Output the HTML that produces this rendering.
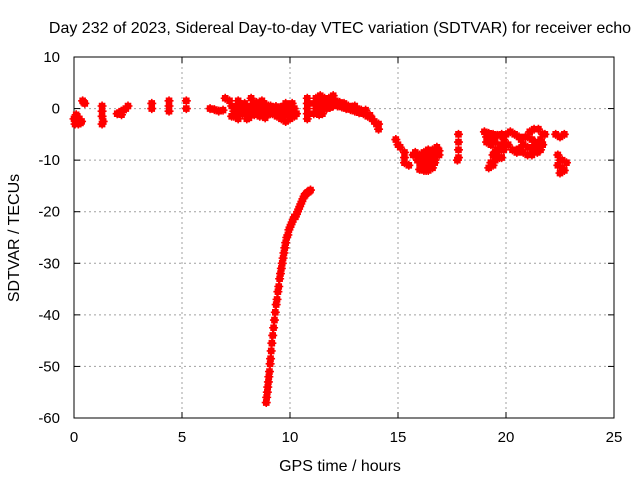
<!DOCTYPE html>
<html><head><meta charset="utf-8"><style>
body{margin:0;background:#fff}
svg{display:block;font-family:"Liberation Sans",sans-serif}
</style></head><body>
<svg id="chart" width="640" height="480" viewBox="0 0 640 480">
<text x="340" y="33" font-size="16" text-anchor="middle">Day 232 of 2023, Sidereal Day-to-day VTEC variation (SDTVAR) for receiver echo</text>
<g id="grid"></g>
<g id="axes"></g>
<g id="marks"></g>
<text x="340" y="471" font-size="16" text-anchor="middle">GPS time / hours</text>
<text transform="translate(19,238) rotate(-90)" font-size="16" text-anchor="middle">SDTVAR / TECUs</text>
</svg>
<script>
const xTicks=[0,5,10,15,20,25];
const yTicks=[10,0,-10,-20,-30,-40,-50,-60];
const earlyPts=[[0,-2],[0.1,-2.5],[0.2,-3],[0.3,-2.8],[0.15,-1.5],[0.25,-2],[0.05,-3],[0.35,-2.5],[0.1,-1.2],[0.4,1.5],[0.45,1.2],[0.5,1],
[1.3,0.5],[1.3,-0.5],[1.3,-1.5],[1.35,-2.5],[1.3,-3],
[2.0,-1],[2.1,-0.8],[2.2,-0.5],[2.3,-0.3],[2.4,0],[2.5,0.5],[2.2,-1.2],
[3.6,1],[3.6,0],[4.4,1.5],[4.4,0.5],[4.4,-0.5],[5.2,1.5],[5.2,0]];
const midPts=[[6.3,0],[6.5,-0.2],[6.7,-0.5],[6.9,-0.3],[7.0,2],[7.2,1.5],[7.3,0.5],[7.4,-0.5],[7.5,-1],[7.6,1.5],[7.7,0],[7.8,-1],[7.9,1],[8.0,0.5],[8.1,-0.5],[8.2,2],[8.3,1],[8.4,-0.5],[8.5,0.5],[8.6,-1],[8.7,0],[8.8,1],[8.9,-0.5],[9.0,0.5],[9.1,-1],[9.2,0],[9.3,-0.5],[9.4,-1.5],[9.5,-0.8],[9.6,-0.3],[9.7,0.5],[9.8,1],[9.9,0],[10.0,0.5],[10.1,1],[10.2,0],
[7.4,-1.5],[7.6,-2],[7.8,-1],[8.0,-2],[8.2,-1],[8.4,0],[8.6,-1.5],[8.8,-1],[9.0,-0.5],[9.2,-1],[9.4,-1.5],[9.6,-2],[9.8,-2.5],[10.0,-2],[10.2,-1.5],[7.5,0.5],[7.9,1],[8.3,0],[8.7,1.5],[9.1,0.5],[9.5,-0.5],[9.9,0.3],[10.3,-1],[7.3,-1.5],[8.1,-1.8],[9.3,-1],
[7.55,0],[7.75,-0.3],[7.95,-0.2],[8.15,0.3],[8.35,-1.2],[8.55,-0.3],[8.75,-0.6],[8.95,0.2],[9.15,-0.2],[9.35,0.4],[9.55,0.2],[9.75,-1],[9.95,-1.2],[10.15,-0.5],[7.65,0.8],[8.05,-1.2],[8.45,1.2],[8.85,-1.8],
[10.8,2],[10.8,1],[10.8,0],[10.8,-1],[10.8,-2],
[11.1,1],[11.2,2],[11.3,1.5],[11.4,2.5],[11.5,1],[11.6,2],[11.7,1.5],[11.8,2],[11.9,1],[12.0,2.5],[11.2,0],[11.4,-0.5],[11.6,0],[11.8,1],[12.0,0.5],[11.1,-1],[11.3,-0.5],[11.5,-1],[11.7,0],[11.9,0.5],[11.2,1],[11.5,1.8],[11.8,1.5],
[11.25,0.5],[11.45,0.8],[11.65,1],[11.35,-1.2],[11.55,0.3],[11.85,0.2],
[12.1,1.5],[12.3,1.2],[12.5,0.8],[12.7,0.5],[12.9,0.3],[13.1,0],[13.3,-0.3],[13.5,-0.8],[13.7,-1.3],[13.9,-2.5],[12.2,0.5],[12.4,0.3],[12.6,0],[12.8,-0.2],[13.0,-0.5],[13.2,-0.8],[13.4,-1],[13.6,-1.5],[13.8,-2],[14.0,-3],[12.5,1],[13.0,0.5],[13.5,-0.3],
[14.1,-3],[14.1,-4]];
const descentPts=[[8.9,-57],[8.92,-56],[8.95,-55],[8.97,-54],[9.0,-53],[9.02,-52],[9.05,-51],[9.08,-49.5],[9.1,-48.5],[9.13,-47],[9.16,-45.5],[9.2,-44],[9.24,-42.5],[9.28,-41],[9.32,-39.5],[9.36,-38],[9.4,-37],[9.44,-35.5],[9.48,-34.5],[9.52,-33],[9.56,-32],[9.6,-31],[9.64,-30],[9.68,-29],[9.72,-28],[9.76,-27],[9.8,-26],[9.85,-25],[9.9,-24.5],[9.95,-23.5],[10.0,-23],[10.05,-22.5],[10.1,-22],[10.15,-21.5],[10.2,-21],[10.25,-21],[10.3,-20.5],[10.35,-20],[10.4,-19.5],[10.45,-19],[10.5,-18.5],[10.55,-18],[10.6,-17.5],[10.65,-17],[10.7,-16.8],[10.75,-16.5],[10.8,-16.3],[10.85,-16.2],[10.9,-16],[10.95,-15.8]];
const latePts=[[14.9,-6],[15.0,-7],[15.1,-7.5],[15.3,-8.5],[15.3,-9.5],[15.3,-10.5],[15.5,-11],
[15.7,-9],[15.9,-10],[16.1,-11.5],[16.3,-12],[16.5,-11],[16.7,-10],[16.9,-9],[15.8,-8.5],[16.0,-9],[16.2,-8.5],[16.4,-8],[16.6,-8],[16.8,-7.5],[16.0,-10.5],[16.2,-10],[16.4,-9.5],[16.6,-9],[16.1,-11],[16.3,-11.5],[16.5,-11],[16.7,-10.5],[16.2,-12],[16.4,-12],[16.6,-11.5],
[15.9,-9.2],[16.1,-9.8],[16.3,-10.6],[16.5,-10],[16.7,-8.8],[16.9,-8.2],[16.4,-8.8],[16.0,-11.8],
[17.8,-5],[17.8,-6.5],[17.8,-8],[17.8,-9.5],[17.75,-10],
[19.0,-4.5],[19.2,-4.8],[19.4,-5],[19.6,-5.2],[19.8,-5],[20.0,-5],[19.1,-6.5],[19.3,-7],[19.5,-6.5],[19.7,-7.5],[19.9,-8],[19.4,-9],[19.6,-9],[19.8,-9.5],[19.3,-10.5],[19.5,-10],[19.7,-9.5],[19.2,-11.5],[19.4,-11],[19.9,-6],[20.1,-7],
[19.2,-5.8],[19.4,-6],[19.6,-8],[19.8,-7],[19.5,-8.3],[19.1,-5.5],
[20.2,-4.5],[20.4,-5],[20.6,-5.5],[20.8,-7],[21.0,-9],[21.2,-8.5],[21.4,-7],[21.6,-6],[21.8,-5],[20.3,-8],[20.5,-8.5],[20.7,-6],[20.9,-5.5],[21.1,-4.5],[21.3,-4],[21.5,-4],[21.7,-5],[21.0,-5.5],[21.2,-6],[21.4,-7.5],[21.6,-8],[21.5,-8],[21.7,-7],[20.8,-8.5],[21.0,-7.5],[21.2,-9],
[21.35,-6.5],[21.55,-7],[21.45,-8.5],[21.65,-6.5],[21.25,-7.5],[20.6,-7.8],
[22.3,-5],[22.5,-5.5],[22.7,-5],[22.4,-9],[22.6,-10],[22.8,-10.5],[22.4,-11],[22.6,-11.5],[22.8,-10.5],[22.5,-12.5],[22.7,-12],[22.5,-10]];
const NS='http://www.w3.org/2000/svg';
const X0=74,X1=614,Y0=57,Y1=418;
const xs=t=>X0+(t-0)/25*(X1-X0);
const ys=v=>Y0+(10-v)/70*(Y1-Y0);
const grid=document.getElementById('grid'),axes=document.getElementById('axes'),marks=document.getElementById('marks');
function mk(tag,attrs,parent){const e=document.createElementNS(NS,tag);for(const k in attrs)e.setAttribute(k,attrs[k]);parent.appendChild(e);return e;}
xTicks.forEach(t=>{
  const x=xs(t);
  if(t>0&&t<25){const g=mk('line',{x1:x,x2:x,y1:Y0,y2:Y1,stroke:'#a0a0a0','stroke-dasharray':'2,3'},grid);
  
  }
  mk('line',{x1:x,x2:x,y1:Y1,y2:Y1-6,stroke:'#000'},axes);
  mk('line',{x1:x,x2:x,y1:Y0,y2:Y0+6,stroke:'#000'},axes);
  const l=mk('text',{x:x,y:Y1+24,'font-size':15,'text-anchor':'middle'},axes);l.textContent=t;
  
  
});
yTicks.forEach(v=>{
  const y=ys(v);
  if(v<10&&v>-60){const g=mk('line',{x1:X0,x2:X1,y1:y,y2:y,stroke:'#a0a0a0','stroke-dasharray':'2,3'},grid);
  
  }
  mk('line',{x1:X0,x2:X0+6,y1:y,y2:y,stroke:'#000'},axes);
  mk('line',{x1:X1,x2:X1-6,y1:y,y2:y,stroke:'#000'},axes);
  const l=mk('text',{x:X0-14,y:y+5,'font-size':15,'text-anchor':'end'},axes);l.textContent=v;
  
  
});
const frame=mk('rect',{x:X0,y:Y0,width:X1-X0,height:Y1-Y0,fill:'none',stroke:'#000'},axes);


let d='';
[earlyPts,midPts,descentPts,latePts].forEach(arr=>arr.forEach(([t,v])=>{
  const x=xs(t),y=ys(v);
  d+=`M${x-4.5},${y}h9M${x},${y-4.5}v9M${x-2.5},${y-2.5}h5v5h-5z`;
}));
const p=mk('path',{d:d,stroke:'#ff0000','stroke-width':1.6,fill:'#ff0000'},marks);


</script>
</body></html>
